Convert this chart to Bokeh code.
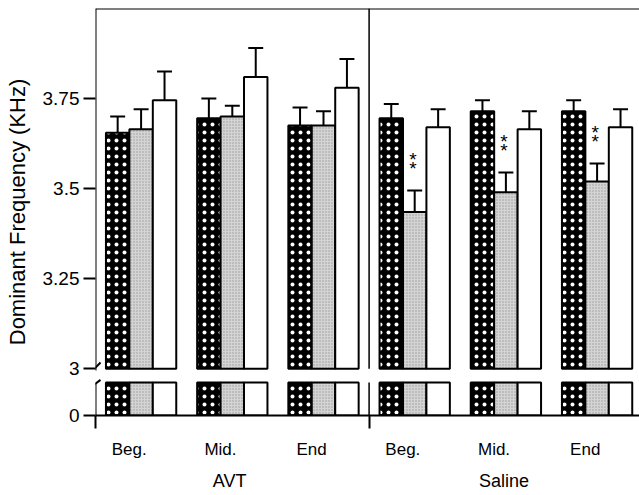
from bokeh.plotting import figure
from bokeh.models import (Range1d, LinearAxis, FixedTicker, CustomJSTickFormatter,
                          Span, Arrow, ColumnDataSource)
from bokeh.core.properties import value
from bokeh.embed import file_html
from bokeh.resources import INLINE

# ---------------- data ----------------
periods = ["Beg.", "Mid.", "End", "Beg.", "Mid.", "End"]
treatments = ["AVT", "Saline"]
dark = [3.655, 3.695, 3.675, 3.695, 3.715, 3.715]
dark_err = [0.045, 0.055, 0.050, 0.040, 0.030, 0.030]
gray = [3.665, 3.700, 3.675, 3.435, 3.490, 3.520]
gray_err = [0.055, 0.030, 0.040, 0.060, 0.055, 0.050]
white = [3.745, 3.810, 3.780, 3.670, 3.665, 3.670]
white_err = [0.080, 0.080, 0.080, 0.050, 0.050, 0.050]
significant = [False, False, False, True, True, True]
y_ticks = [3, 3.25, 3.5, 3.75]
break_value = 3.0

FONT = "Liberation Sans"
W = 0.257          # bar width (group spacing = 1)
CAP = 0.082        # half width of error caps
PX = 360.0         # pixels per unit in the upper panel
LABEL_SHIFT = -0.13

p = figure(width=639, height=495, output_backend="svg", toolbar_location=None,
           x_range=Range1d(-0.5, 5.465), y_range=Range1d(2.87, 4.0),
           x_axis_type=None, y_axis_type=None,
           min_border_left=95, min_border_right=0, min_border_top=8, min_border_bottom=80)
p.outline_line_color = None
p.background_fill_color = "white"
p.border_fill_color = "white"
p.extra_y_ranges = {"low": Range1d(0, 3 * 407 / 33.0)}

# ---------------- axes ----------------
yax = LinearAxis(
    ticker=FixedTicker(ticks=[2.87] + y_ticks, minor_ticks=[]),
    formatter=CustomJSTickFormatter(code='return tick < 2.95 ? "0" : String(tick);'),
    axis_label="Dominant Frequency (KHz)",
    axis_label_text_font=FONT, axis_label_text_font_size="22px",
    axis_label_text_font_style="normal", axis_label_standoff=10,
    axis_label_text_color="black",
    major_label_text_font=FONT, major_label_text_font_size="19px",
    major_label_text_color="black",
    major_label_standoff=4, major_tick_out=12, major_tick_in=0,
    major_tick_line_width=2, axis_line_color=None)
p.add_layout(yax, "left")

xax = LinearAxis(
    ticker=FixedTicker(ticks=[i + LABEL_SHIFT for i in range(len(periods))],
                       minor_ticks=[-0.5, 2.5, 5.5]),
    formatter=CustomJSTickFormatter(args=dict(labels=periods),
                                    code="return labels[Math.round(tick)] || '';"),
    major_label_text_font=FONT, major_label_text_font_size="17px",
    major_label_text_color="black",
    major_label_standoff=11, major_tick_out=0, major_tick_in=0,
    minor_tick_out=13, minor_tick_in=0, minor_tick_line_width=2,
    minor_tick_line_color="black",
    axis_line_width=2, axis_line_color="black")
p.add_layout(xax, "below")

gax = LinearAxis(
    ticker=FixedTicker(ticks=[1 - 0.03, 4 - 0.02], minor_ticks=[]),
    formatter=CustomJSTickFormatter(args=dict(labels=treatments),
                                    code="return labels[Math.floor(Math.round(tick) / 3)];"),
    major_label_text_font=FONT, major_label_text_font_size="18px",
    major_label_text_color="black",
    major_label_standoff=9, major_tick_out=0, major_tick_in=0,
    axis_line_color=None, major_tick_line_color=None, minor_tick_line_color=None)
p.add_layout(gax, "below")

# ---------------- bars ----------------
idx = list(range(len(periods)))
series = [
    (dark, dark_err, -W, dict(fill_color="black", hatch_pattern="dot", hatch_color="white",
                              hatch_scale=8, hatch_weight=1.5)),
    (gray, gray_err, 0.0, dict(fill_color="#d4d4d4", hatch_pattern="dot", hatch_color="#9a9a9a",
                               hatch_scale=3, hatch_weight=0.5)),
    (white, white_err, W, dict(fill_color="white")),
]
for vals, errs, off, style in series:
    xs = [i + off for i in idx]
    tops = [v + e for v, e in zip(vals, errs)]
    src = ColumnDataSource(dict(x=xs, top=vals, etop=tops,
                                x0=[x - CAP for x in xs], x1=[x + CAP for x in xs]))
    p.vbar(x="x", width=W, bottom=break_value, top="top", source=src,
           line_color="black", line_width=2, **style)
    p.vbar(x="x", width=W, bottom=0, top=3, source=src, y_range_name="low",
           line_color="black", line_width=2, **style)
    p.segment(x0="x", y0="top", x1="x", y1="etop", source=src, line_color="black", line_width=2)
    p.segment(x0="x0", y0="etop", x1="x1", y1="etop", source=src, line_color="black", line_width=2)

# significance asterisks above the gray bars
ax_x, ay1, ay2 = [], [], []
for i in idx:
    if significant[i]:
        et = gray[i] + gray_err[i]
        ax_x.append(i - 0.02)
        ay1.append(et + 22.0 / PX)
        ay2.append(et + 31.0 / PX)
for ys in (ay1, ay2):
    p.text(x=ax_x, y=ys, text=["*"] * len(ax_x), text_font=value(FONT),
           text_font_size="19px", text_align="center", text_baseline="middle",
           text_color="black")

# ---------------- frame pieces ----------------
p.add_layout(Span(location=4.0, dimension="width", line_color="black", line_width=2))
# divider between AVT and Saline
p.segment(x0=[2.5], y0=[break_value], x1=[2.5], y1=[4.0], line_color="black", line_width=1.5)
p.segment(x0=[2.5], y0=[0], x1=[2.5], y1=[3], y_range_name="low",
          line_color="black", line_width=1.5)
# left axis line with a break
p.add_layout(Arrow(end=None, x_start=-0.5, y_start=2.995, x_end=-0.5, y_end=4.0,
                   line_color="black", line_width=2))
p.add_layout(Arrow(end=None, x_start=-0.5, y_start=0, x_end=-0.5, y_end=3,
                   y_range_name="low", line_color="black", line_width=2))
p.add_layout(Arrow(end=None, x_start=-0.577, y_start=2.983, x_end=-0.445, y_end=3.017,
                   line_color="black", line_width=2))
p.add_layout(Arrow(end=None, x_start=-0.577, y_start=2.944, x_end=-0.445, y_end=2.969,
                   line_color="black", line_width=2))

open("out.html", "w").write(file_html(p, INLINE))
